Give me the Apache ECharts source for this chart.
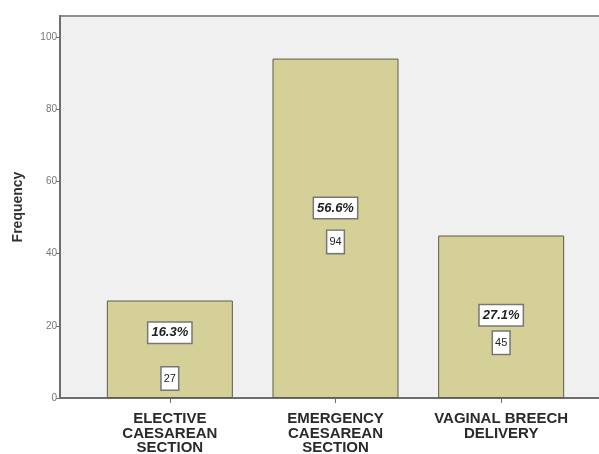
<!DOCTYPE html>
<html><head><meta charset="utf-8">
<script src="https://cdn.jsdelivr.net/npm/echarts@6/dist/echarts.min.js"></script>
<style>html,body{margin:0;padding:0;background:#fff}#c{width:599px;height:454px}</style>
</head><body><div id="c"></div>
<script>
const categories = ['ELECTIVE\nCAESAREAN\nSECTION', 'EMERGENCY\nCAESAREAN\nSECTION', 'VAGINAL BREECH\nDELIVERY'];
const counts = [27, 94, 45];
const percents = ['16.3%', '56.6%', '27.1%'];
const yTicks = [0, 20, 40, 60, 80, 100];

// label placement styles inside each bar (relative to bar rect)
const pctPos = [['50%', '33%'], ['50%', '44%'], ['50%', '49%']];
const cntPos = [['50%', '80%'], ['50%', '54%'], ['50%', '66%']];

const yMax = 105.8;
const FONT = '"Liberation Sans", Arial, sans-serif';

const chart = echarts.init(document.getElementById('c'));
chart.setOption({
  animation: false,
  grid: [
    {left: 60, width: 580, top: 16, bottom: 56, outerBoundsMode: 'none', containLabel: false,
     show: true, backgroundColor: '#f0f0f0', borderColor: '#8f8f8f', borderWidth: 2},
    {left: 87, width: 497, top: 16, bottom: 56, outerBoundsMode: 'none', containLabel: false}
  ],
  xAxis: [
    {gridIndex: 0, type: 'value', min: 0, max: 1, axisLine: {show: true, onZero: false, lineStyle: {color: '#6e6e6e', width: 2}},
     axisTick: {show: false}, axisLabel: {show: false}, splitLine: {show: false}},
    {gridIndex: 1, type: 'category', data: categories,
     axisLine: {show: false}, axisTick: {show: true, alignWithLabel: true, length: 5, lineStyle: {color: '#6e6e6e'}},
     axisLabel: {color: '#2a2a2a', fontFamily: FONT, fontWeight: 'bold', fontSize: 15, lineHeight: 14.5, margin: 14, interval: 0}}
  ],
  yAxis: [
    {gridIndex: 0, type: 'value', min: 0, max: yMax, interval: 20,
     name: 'Frequency', nameLocation: 'middle', nameGap: 35, nameRotate: 90,
     nameTextStyle: {fontFamily: FONT, fontWeight: 'bold', fontSize: 14, color: '#333'},
     axisLine: {show: true, lineStyle: {color: '#6e6e6e', width: 2}},
     axisTick: {show: true, length: 4, lineStyle: {color: '#6e6e6e'}},
     axisLabel: {showMaxLabel: false, fontFamily: FONT, fontSize: 10, color: '#777', margin: 3,
       formatter: v => yTicks.includes(v) ? String(v) : ''},
     splitLine: {show: false}},
    {gridIndex: 1, type: 'value', min: 0, max: yMax, show: false}
  ],
  series: [
    {type: 'bar', xAxisIndex: 1, yAxisIndex: 1, barWidth: 126,
     itemStyle: {color: '#d5d098', borderColor: '#5c5c48', borderWidth: 1},
     data: counts.map((v, i) => ({value: v, label: {position: pctPos[i]}})),
     label: {show: true, align: 'center', verticalAlign: 'middle',
       formatter: p => percents[p.dataIndex],
       fontFamily: FONT, fontWeight: 'bold', fontStyle: 'italic', fontSize: 13, color: '#222',
       backgroundColor: '#fff', borderColor: '#777', borderWidth: 1.5, padding: [4, 3, 3, 3]}
    },
    {type: 'bar', xAxisIndex: 1, yAxisIndex: 1, barWidth: 126, barGap: '-100%', silent: true,
     itemStyle: {color: 'rgba(0,0,0,0)'},
     data: counts.map((v, i) => ({value: v, label: {position: cntPos[i]}})),
     label: {show: true, align: 'center', verticalAlign: 'middle',
       formatter: p => String(p.value),
       fontFamily: FONT, fontSize: 11, color: '#222',
       backgroundColor: '#fff', borderColor: '#777', borderWidth: 1.5, padding: [6, 2, 5, 2]}
    }
  ]
});
</script></body></html>
